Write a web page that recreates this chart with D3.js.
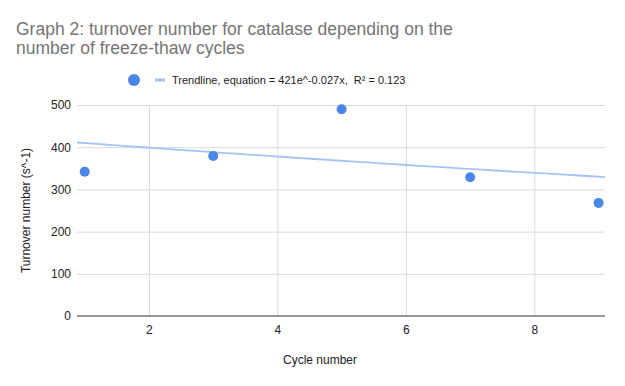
<!DOCTYPE html>
<html>
<head>
<meta charset="utf-8">
<script src="https://cdnjs.cloudflare.com/ajax/libs/d3/7.8.5/d3.min.js"></script>
<style>
  body { margin: 0; background: #fff; }
  text { font-family: "Liberation Sans", Arial, sans-serif; white-space: pre; }
</style>
</head>
<body>
<div id="plot"></div>
<script>
// data
var cycles = [1, 3, 5, 7, 9];
var turnover = [342, 379, 490, 329, 268];
var yTicks = [0, 100, 200, 300, 400, 500];
var xTicks = [2, 4, 6, 8];
// trendline y = a * e^(b x), from the legend
var trendCoef = [421, -0.027];

var w = 625, h = 386;
var pLeft = 77, pRight = 605, pTop = 105, pBottom = 316;

var svg = d3.select("#plot").append("svg")
  .attr("width", w)
  .attr("height", h);

var x = d3.scaleLinear().domain([0.88, 9.1]).range([pLeft, pRight]);
var y = d3.scaleLinear().domain([0, 500]).range([pBottom, pTop]);

// title
svg.append("text")
  .attr("x", 16).attr("y", 35)
  .attr("font-size", 17.5).attr("fill", "#757575")
  .text("Graph 2: turnover number for catalase depending on the");
svg.append("text")
  .attr("x", 16).attr("y", 54)
  .attr("font-size", 17.5).attr("fill", "#757575")
  .text("number of freeze-thaw cycles");

// legend
svg.append("circle").attr("cx", 134).attr("cy", 80).attr("r", 6).attr("fill", "#4a86e8");
svg.append("line")
  .attr("x1", 155).attr("x2", 165).attr("y1", 80).attr("y2", 80)
  .attr("stroke", "#a4c2f4").attr("stroke-width", 3);
svg.append("text")
  .attr("x", 172).attr("y", 84)
  .attr("font-size", 11).attr("fill", "#222")
  .text("Trendline, equation = 421e^-0.027x,  R² = 0.123");

// gridlines
var gy = d3.axisLeft(y).tickValues(yTicks.slice(1)).tickSize(-(pRight - pLeft)).tickFormat("");
svg.append("g").attr("transform", "translate(" + pLeft + ",0)").call(gy)
  .call(function(g) {
    g.select(".domain").remove();
    g.selectAll("line").attr("stroke", "#d9d9d9");
  });
var gx = d3.axisBottom(x).tickValues(xTicks).tickSize(-(pBottom - pTop)).tickFormat("");
svg.append("g").attr("transform", "translate(0," + pBottom + ")").call(gx)
  .call(function(g) {
    g.select(".domain").remove();
    g.selectAll("line").attr("stroke", "#d9d9d9");
  });

// y labels
var ya = d3.axisLeft(y).tickValues(yTicks).tickSize(0).tickPadding(6);
svg.append("g").attr("transform", "translate(" + pLeft + ",0)").call(ya)
  .call(function(g) {
    g.select(".domain").remove();
    g.selectAll("text").attr("font-size", 12).attr("fill", "#222")
      .attr("font-family", "Liberation Sans, Arial, sans-serif");
  });

// x labels
var xa = d3.axisBottom(x).tickValues(xTicks).tickSize(0).tickPadding(9);
svg.append("g").attr("transform", "translate(0," + pBottom + ")").call(xa)
  .call(function(g) {
    g.select(".domain").remove();
    g.selectAll("text").attr("font-size", 12).attr("fill", "#222")
      .attr("font-family", "Liberation Sans, Arial, sans-serif");
  });

// baseline
svg.append("line")
  .attr("x1", pLeft).attr("x2", pRight).attr("y1", y(0)).attr("y2", y(0))
  .attr("stroke", "#333").attr("stroke-width", 1);

// trendline
var tx = d3.range(0, 41).map(function(i) {
  var d = x.domain();
  return d[0] + (d[1] - d[0]) * i / 40;
});
var line = d3.line()
  .x(function(d) { return x(d); })
  .y(function(d) { return y(trendCoef[0] * Math.exp(trendCoef[1] * d)); });
svg.append("path")
  .datum(tx)
  .attr("d", line)
  .attr("fill", "none")
  .attr("stroke", "#a4c2f4")
  .attr("stroke-width", 1.8);

// points
svg.selectAll("circle.pt")
  .data(cycles)
  .enter()
  .append("circle")
  .attr("class", "pt")
  .attr("cx", function(d) { return x(d); })
  .attr("cy", function(d, i) { return y(turnover[i]); })
  .attr("r", 5)
  .attr("fill", "#4a86e8");

// axis titles
svg.append("text")
  .attr("text-anchor", "middle")
  .attr("transform", "translate(30," + ((pTop + pBottom) / 2) + ")rotate(-90)")
  .attr("font-size", 12).attr("fill", "#222")
  .text("Turnover number (s^-1)");
svg.append("text")
  .attr("text-anchor", "middle")
  .attr("x", 320).attr("y", 364)
  .attr("font-size", 12).attr("fill", "#222")
  .text("Cycle number");
</script>
</body>
</html>
